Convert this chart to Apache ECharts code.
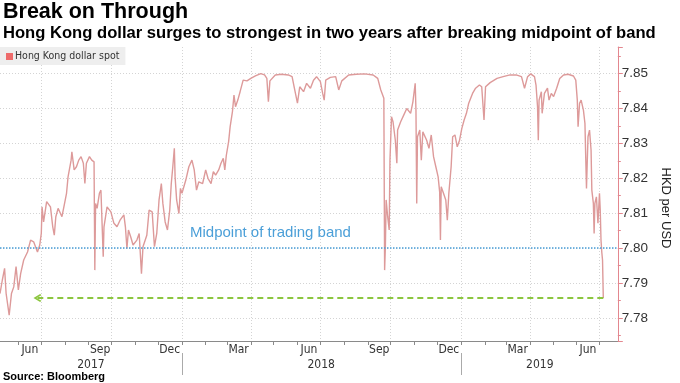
<!DOCTYPE html>
<html><head><meta charset="utf-8">
<script src="https://cdn.jsdelivr.net/npm/echarts@6/dist/echarts.min.js"></script>
<style>html,body{margin:0;padding:0;background:#fff}#c{width:680px;height:383px}</style>
</head><body><div id="c"></div>
<script>
const titleText = 'Break on Through';
const subtitleText = 'Hong Kong dollar surges to strongest in two years after breaking midpoint of band';
const sourceText = 'Source: Bloomberg';
const seriesName = 'Hong Kong dollar spot';
const axisName = 'HKD per USD';
const midpointLabel = 'Midpoint of trading band';
const axisStart = '2017-05-08';
const axisEnd = '2019-07-25';
const yMin = 7.7734, yMax = 7.8576;
const midpointValue = 7.80;
const strongLevel = 7.7857;
const strongFrom = '2017-06-26';
const monthLabels = {'03':'Mar','06':'Jun','09':'Sep','12':'Dec'};

const dates = [
'2017-05-08','2017-05-11','2017-05-14','2017-05-16','2017-05-20','2017-05-23','2017-05-26','2017-05-29','2017-06-01','2017-06-04',
'2017-06-08','2017-06-13','2017-06-17','2017-06-21','2017-06-26','2017-06-29','2017-07-01','2017-07-02','2017-07-04','2017-07-08',
'2017-07-13','2017-07-16','2017-07-18','2017-07-20','2017-07-23','2017-07-28','2017-07-31','2017-08-03','2017-08-05','2017-08-09',
'2017-08-10','2017-08-13','2017-08-16','2017-08-19','2017-08-22','2017-08-25','2017-08-27','2017-08-29','2017-09-02','2017-09-05',
'2017-09-08','2017-09-09','2017-09-10','2017-09-12','2017-09-15','2017-09-17','2017-09-20','2017-09-21','2017-09-25','2017-09-30',
'2017-10-04','2017-10-08','2017-10-12','2017-10-17','2017-10-19','2017-10-21','2017-10-23','2017-10-26','2017-10-29','2017-11-03',
'2017-11-06','2017-11-09','2017-11-11','2017-11-16','2017-11-19','2017-11-23','2017-11-26','2017-11-29','2017-12-02','2017-12-05',
'2017-12-07','2017-12-10','2017-12-13','2017-12-16','2017-12-18','2017-12-20','2017-12-22','2017-12-23','2017-12-25','2017-12-28',
'2017-12-30','2018-01-01','2018-01-06','2018-01-10','2018-01-14','2018-01-17','2018-01-20','2018-01-23','2018-01-28','2018-02-01',
'2018-02-04','2018-02-08','2018-02-11','2018-02-14','2018-02-18','2018-02-21','2018-02-24','2018-02-26','2018-02-28','2018-03-03',
'2018-03-05','2018-03-08','2018-03-10','2018-03-12','2018-03-15','2018-03-18','2018-03-22','2018-03-27','2018-04-01','2018-04-07',
'2018-04-14','2018-04-19','2018-04-22','2018-04-24','2018-04-26','2018-05-03','2018-05-11','2018-05-20','2018-05-25','2018-05-28',
'2018-06-01','2018-06-04','2018-06-09','2018-06-13','2018-06-18','2018-06-22','2018-06-26','2018-07-01','2018-07-04','2018-07-06',
'2018-07-08','2018-07-14','2018-07-21','2018-07-25','2018-07-29','2018-08-07','2018-08-17','2018-08-28','2018-09-08','2018-09-14',
'2018-09-18','2018-09-22','2018-09-23','2018-09-24','2018-09-25','2018-09-27','2018-09-29','2018-09-30','2018-10-02','2018-10-04',
'2018-10-07','2018-10-09','2018-10-10','2018-10-14','2018-10-18','2018-10-22','2018-10-27','2018-10-30','2018-11-02','2018-11-03',
'2018-11-04','2018-11-05','2018-11-08','2018-11-10','2018-11-12','2018-11-17','2018-11-20','2018-11-23','2018-11-26','2018-11-29',
'2018-12-02','2018-12-04','2018-12-05','2018-12-06','2018-12-09','2018-12-12','2018-12-14','2018-12-16','2018-12-19','2018-12-21',
'2018-12-24','2018-12-27','2018-12-30','2019-01-02','2019-01-05','2019-01-08','2019-01-11','2019-01-16','2019-01-20','2019-01-25',
'2019-01-28','2019-01-31','2019-02-02','2019-02-08','2019-02-17','2019-02-25','2019-03-06','2019-03-14','2019-03-21','2019-03-25',
'2019-03-29','2019-04-02','2019-04-07','2019-04-09','2019-04-11','2019-04-12','2019-04-13','2019-04-16','2019-04-17','2019-04-20',
'2019-04-24','2019-04-26','2019-04-29','2019-05-02','2019-05-06','2019-05-10','2019-05-15','2019-05-21','2019-05-28','2019-05-31',
'2019-06-02','2019-06-03','2019-06-05','2019-06-07','2019-06-10','2019-06-12','2019-06-13','2019-06-14','2019-06-16','2019-06-18',
'2019-06-20','2019-06-21','2019-06-23','2019-06-24','2019-06-25','2019-06-27','2019-06-29','2019-07-01','2019-07-02','2019-07-03',
'2019-07-04','2019-07-05','2019-07-06'
];
const values = [
7.7870,7.7908,7.7942,7.7870,7.7808,7.7870,7.7889,7.7947,7.7880,7.7927,
7.7966,7.7989,7.8023,7.8018,7.7989,7.8009,7.8042,7.8118,7.8075,7.8133,
7.8118,7.8061,7.8037,7.8090,7.8114,7.8090,7.8123,7.8157,7.8204,7.8252,
7.8276,7.8224,7.8233,7.8252,7.8262,7.8243,7.8185,7.8243,7.8262,7.8252,
7.8247,7.7937,7.8128,7.8114,7.8157,7.8166,7.7975,7.8061,7.8118,7.8104,
7.8071,7.8061,7.8080,7.8095,7.8061,7.7999,7.8052,7.8032,7.8009,7.8023,
7.8042,7.7927,7.8004,7.8037,7.8109,7.8104,7.8004,7.8042,7.8138,7.8185,
7.8128,7.8075,7.8052,7.8109,7.8185,7.8233,7.8286,7.8204,7.8138,7.8099,
7.8171,7.8157,7.8195,7.8233,7.8252,7.8224,7.8166,7.8190,7.8185,7.8224,
7.8200,7.8185,7.8219,7.8209,7.8224,7.8243,7.8257,7.8224,7.8266,7.8305,
7.8348,7.8391,7.8438,7.8405,7.8424,7.8448,7.8481,7.8479,7.8486,7.8493,
7.8500,7.8496,7.8486,7.8419,7.8479,7.8496,7.8498,7.8496,7.8491,7.8458,
7.8415,7.8462,7.8448,7.8472,7.8458,7.8481,7.8491,7.8477,7.8443,7.8424,
7.8481,7.8489,7.8491,7.8453,7.8479,7.8496,7.8498,7.8499,7.8496,7.8486,
7.8453,7.8429,7.7937,7.8004,7.8138,7.8090,7.8052,7.8252,7.8376,7.8362,
7.8309,7.8243,7.8338,7.8362,7.8381,7.8400,7.8386,7.8419,7.8472,7.8395,
7.8128,7.8319,7.8338,7.8252,7.8333,7.8309,7.8286,7.8324,7.8262,7.8233,
7.8204,7.8161,7.8023,7.8176,7.8157,7.8138,7.8080,7.8157,7.8233,7.8319,
7.8324,7.8290,7.8309,7.8343,7.8367,7.8386,7.8415,7.8443,7.8458,7.8467,
7.8462,7.8367,7.8462,7.8474,7.8486,7.8491,7.8496,7.8496,7.8491,7.8458,
7.8491,7.8499,7.8491,7.8467,7.8405,7.8309,7.8424,7.8448,7.8386,7.8443,
7.8458,7.8424,7.8443,7.8434,7.8458,7.8486,7.8496,7.8498,7.8493,7.8481,
7.8424,7.8348,7.8415,7.8424,7.8395,7.8357,7.8262,7.8171,7.8319,7.8338,
7.8281,7.8166,7.8128,7.8042,7.8128,7.8147,7.8071,7.8157,7.8109,7.8023,
7.7989,7.7966,7.7857
];

// daily category axis from axisStart to axisEnd
function fmt(d){return d.toISOString().slice(0,10);}
const days = [];
for (let t = Date.parse(axisStart + 'T00:00:00Z'); t <= Date.parse(axisEnd + 'T00:00:00Z'); t += 86400000) days.push(fmt(new Date(t)));

// centre of each year's visible span, for the year row
const yearCenters = {};
(function(){
  const first = {}, last = {};
  days.forEach((d,i)=>{const y=d.slice(0,4); if(!(y in first)) first[y]=i; last[y]=i;});
  Object.keys(first).forEach(y=>{yearCenters[Math.round((first[y]+last[y])/2)] = y;});
})();

const FONT = 'Liberation Sans';
const NARROW = '"DejaVu Sans Condensed","Liberation Sans Narrow",sans-serif';
const RED = '#e3878f';
const BLUE = '#4b9fd8';
const GREEN = '#8cc63f';
const GRIDC = '#d4d4d4';

const chart = echarts.init(document.getElementById('c'), null, {renderer:'canvas'});
chart.setOption({
  animation: false,
  backgroundColor: '#fff',
  title: [
    {text: titleText, left: 3, top: 1, padding: 0, textStyle: {fontFamily: FONT, fontWeight: 'bold', fontSize: 21.5, color: '#000'}},
    {text: subtitleText, left: 3, top: 25, padding: 0, textStyle: {fontFamily: FONT, fontWeight: 'bold', fontSize: 16.6, color: '#000'}},
    {text: sourceText, left: 3, top: 371, padding: 0, textStyle: {fontFamily: FONT, fontWeight: 'bold', fontSize: 11, color: '#000'}}
  ],
  legend: {
    left: 0, top: 47, padding: [4, 6, 3, 6], backgroundColor: '#eeeeee',
    itemWidth: 7, itemHeight: 7, icon: 'rect', itemGap: 0,
    textStyle: {fontFamily: NARROW, fontSize: 10.5, color: '#333', padding: [0, 0, 0, -3]},
    data: [{name: seriesName, itemStyle: {color: '#ee6b6b'}}]
  },
  grid: {left: 0, right: 48, top: 47, bottom: 42, containLabel: false},
  xAxis: [
    {
      type: 'category', data: days, boundaryGap: false,
      axisLine: {show: true, lineStyle: {color: '#8a8a8a', width: 1}},
      axisTick: {show: true, length: 4, lineStyle: {color: '#8a8a8a'},
        interval: (i, v) => v.slice(8) === '01'},
      axisLabel: {show: true, margin: 3, fontFamily: NARROW, fontSize: 12, color: '#333',
        interval: (i, v) => v.slice(8) === '16' && (v.slice(5,7) in monthLabels),
        formatter: v => monthLabels[v.slice(5,7)] || ''},
      splitLine: {show: true, lineStyle: {color: GRIDC, type: [1, 2]},
        interval: (i, v) => v.slice(8) === '01' && ['01','04','07','10'].includes(v.slice(5,7))}
    },
    {
      type: 'category', data: days, boundaryGap: false, position: 'bottom', offset: 12,
      axisLine: {show: false},
      axisTick: {show: true, length: 22, lineStyle: {color: '#aaaaaa'},
        interval: (i, v) => v.slice(5) === '01-01'},
      axisLabel: {show: true, margin: 6, fontFamily: NARROW, fontSize: 12, color: '#333',
        interval: (i) => i in yearCenters,
        formatter: (v, i) => yearCenters[i] || ''},
      splitLine: {show: false}
    }
  ],
  yAxis: {
    type: 'value', position: 'right', min: yMin, max: yMax, splitNumber: 9,
    axisLine: {show: true, lineStyle: {color: RED, width: 1}},
    axisTick: {show: true, length: 5, lineStyle: {color: RED}},
    minorTick: {show: true, splitNumber: 2, length: 3, lineStyle: {color: RED}},
    axisLabel: {margin: 4, fontFamily: FONT, fontSize: 13.5, color: '#333',
      showMinLabel: false, showMaxLabel: false, formatter: v => v.toFixed(2)},
    splitLine: {show: true, showMinLine: false, showMaxLine: false, lineStyle: {color: GRIDC, type: [1, 2]}},
    name: axisName, nameLocation: 'middle', nameRotate: -90, nameGap: 35,
    nameTextStyle: {fontFamily: FONT, fontSize: 13, color: '#222', padding: [0, 0, 0, 28]}
  },
  series: [{
    name: seriesName, type: 'line', xAxisIndex: 0, yAxisIndex: 0,
    showSymbol: false, symbol: 'none',
    lineStyle: {color: '#dd9a9a', width: 1.4},
    itemStyle: {color: '#ee6b6b'},
    data: dates.map((d, i) => [d, values[i]]),
    markLine: {
      silent: true, animation: false, symbol: 'none',
      data: [
        {yAxis: midpointValue,
          lineStyle: {color: BLUE, type: [1.5, 1.5], width: 1.5},
          label: {show: true, formatter: midpointLabel, position: 'insideStartTop', distance: [190, 8],
            color: BLUE, fontFamily: FONT, fontSize: 15}},
        [
          {coord: [dates[dates.length - 1], strongLevel], symbol: 'none'},
          {coord: [strongFrom, strongLevel], symbol: 'path://M0,8 L5,0 L10,8 L8.4,9.6 L5,3.6 L1.6,9.6 Z', symbolSize: [8, 8],
            lineStyle: {color: GREEN, type: [6, 4], width: 2}, label: {show: false}}
        ]
      ],
      lineStyle: {color: GREEN, type: [6, 4], width: 2},
      label: {show: false}
    }
  }]
});
</script></body></html>
